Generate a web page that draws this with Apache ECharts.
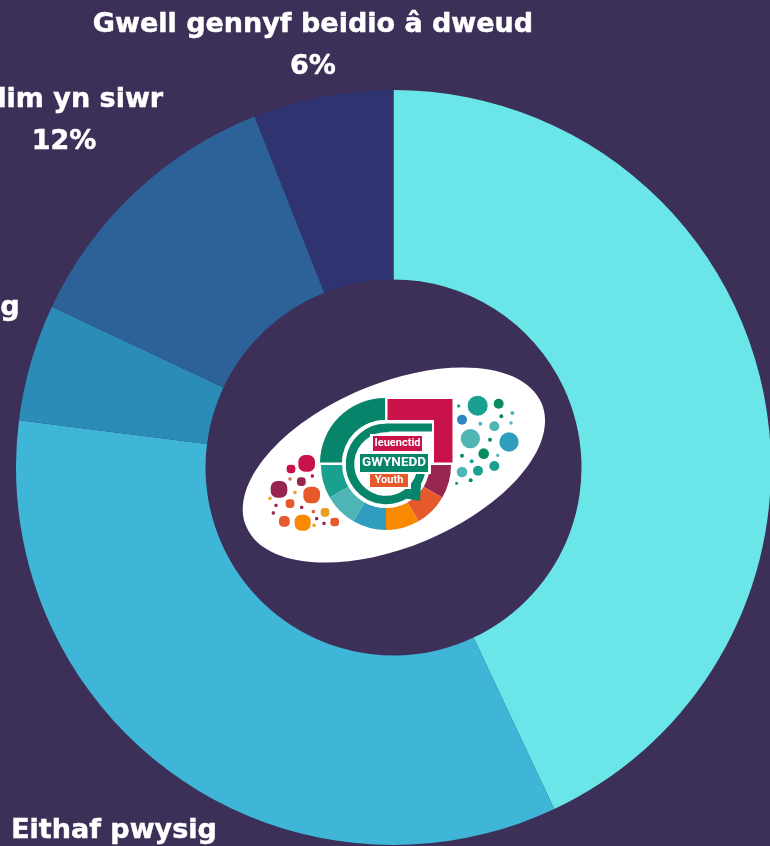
<!DOCTYPE html>
<html>
<head>
<meta charset="utf-8">
<style>html,body{margin:0;padding:0;background:#3c2f58;overflow:hidden}#c{width:770px;height:846px}</style>
<script src="https://cdn.jsdelivr.net/npm/echarts@6/dist/echarts.min.js"></script>
</head>
<body>
<div id="c"></div>
<script>
const categories = ['Pwysig iawn', 'Eithaf pwysig', 'Ddim yn bwysig', 'Ddim yn siwr', 'Gwell gennyf beidio â dweud'];
const values = [43, 34, 5, 12, 6];
const sliceColors = ['#6ae5e8', '#3fb5d7', '#2b8cb8', '#2d6299', '#2f3470'];
const labelAnchors = [[900, 460], [114, 852], [-101, 329], [64, 121], [313, 46]];

// Logo dots: x, y, radius (in logo pixel units), colour
const warmDots = [[230,325,25,'#c9124a'],[183,342,13,'#c9124a'],[147,403,25,'#96254f'],[214,380,13,'#96254f'],[245,420,25,'#e5592b'],[180,446,13,'#e5592b'],[163,499,16,'#e5592b'],[218,503,24,'#f98a00'],[285,472,13,'#e8a020'],[314,501,13,'#e5592b'],[180,372,5,'#d8735a'],[247,363,5,'#c9124a'],[195,412,5,'#e8a020'],[120,430,5,'#e8a020'],[138,451,5,'#96254f'],[130,474,5,'#96254f'],[215,457,5,'#96254f'],[250,470,5,'#e5592b'],[260,491,5,'#96254f'],[282,505,5,'#96254f'],[252,511,5,'#e8a020']];
const coolDots = [[743,152,30,'#1aa08e'],[806,146,15,'#0a8a60'],[686,153,5,'#1aa08e'],[696,194,15,'#2f86c0'],[847,174,6,'#4fb5b5'],[814,184,6,'#0a8a60'],[843,204,5,'#4fb5b5'],[751,206,6,'#4fb5b5'],[793,214,15,'#4fb5b5'],[721,251,29,'#4fb5b5'],[837,261,29,'#2f9dbd'],[780,254,6,'#0a8a60'],[761,296,16,'#0a8a60'],[696,302,6,'#0a8a60'],[725,319,6,'#1aa08e'],[803,301,5,'#4fb5b5'],[793,333,15,'#1aa08e'],[744,347,15,'#1aa08e'],[696,351,16,'#4fb5b5'],[722,376,6,'#0a8a60'],[680,385,5,'#1aa08e']];
const ringColors = ['#96254f', '#e5592b', '#f98a00', '#2f9dbd', '#4fb5b5', '#1aa08e'];

const zx = x => 230 + x / 3, zy = y => 355 + y / 3;
const cx = 386, cy = 464, D = Math.PI / 180;
const g = [];
g.push({type:'ellipse', z:10, shape:{cx:0, cy:0, rx:160, ry:82}, x:394, y:465, rotation:22.6*D, style:{fill:'#ffffff'}});
warmDots.forEach(d => { const r = d[2]/3; g.push({type:'rect', z:11, shape:{x:zx(d[0])-r, y:zy(d[1])-r, width:2*r, height:2*r, r:r*0.8}, style:{fill:d[3]}}); });
coolDots.forEach(d => g.push({type:'circle', z:11, shape:{cx:zx(d[0]), cy:zy(d[1]), r:d[2]/3}, style:{fill:d[3]}}));
g.push({type:'rect', z:11, shape:{x:387.5, y:399, width:65, height:64}, style:{fill:'#c9124a'}});
g.push({type:'sector', z:11, shape:{cx:cx-1, cy:cy-1, r:65, r0:43, startAngle:180*D, endAngle:270*D}, style:{fill:'#06856a'}});
ringColors.forEach((c, i) => g.push({type:'sector', z:11, shape:{cx, cy:cy+1, r:65, r0:43, startAngle:i*30*D, endAngle:(i+1)*30*D}, style:{fill:c}}));
g.push({type:'circle', z:12, shape:{cx, cy, r:44}, style:{fill:'#ffffff'}});
g.push({type:'rect', z:12, shape:{x:387.5, y:420, width:46.5, height:43}, style:{fill:'#ffffff'}});
g.push({type:'rect', z:12, shape:{x:320, y:462.5, width:133, height:2}, style:{fill:'#ffffff'}});
g.push({type:'arc', z:13, shape:{cx, cy, r:36, startAngle:275*D, endAngle:15*D, clockwise:false}, style:{stroke:'#06856a', lineWidth:8.5, fill:null}});
g.push({type:'rect', z:13, shape:{x:386, y:423.5, width:46, height:8}, style:{fill:'#06856a'}});
g.push({type:'polygon', z:13, shape:{points:[[421.5,475],[420,501],[403,498]]}, style:{fill:'#06856a'}});
g.push({type:'rect', z:14, shape:{x:370, y:434, width:55, height:18}, style:{fill:'#ffffff'}});
g.push({type:'rect', z:14, shape:{x:357, y:452, width:74, height:22}, style:{fill:'#ffffff'}});
g.push({type:'rect', z:14, shape:{x:367, y:472, width:44, height:17}, style:{fill:'#ffffff'}});
g.push({type:'rect', z:15, shape:{x:373, y:436, width:49, height:15}, style:{fill:'#c9124a'}});
g.push({type:'rect', z:15, shape:{x:360, y:454, width:68, height:18}, style:{fill:'#06856a'}});
g.push({type:'rect', z:15, shape:{x:370, y:474, width:38, height:13}, style:{fill:'#e5592b'}});
const txt = (t, x, y, s) => g.push({type:'text', z:16, x, y, style:{text:t, fill:'#ffffff', font:'700 '+s+'px Roboto, sans-serif', textAlign:'center', textVerticalAlign:'middle'}});
txt('Ieuenctid', 397.5, 443.5, 11);
txt('GWYNEDD', 394, 463, 13.5);
txt('Youth', 389, 480.5, 11);

const chart = echarts.init(document.getElementById('c'), null, {renderer:'canvas'});
chart.setOption({
  backgroundColor:'#3c2f58',
  animation:false,
  graphic:{elements:g},
  series:[{
    type:'pie',
    center:[393.5, 467.5],
    radius:[188, 377.5],
    startAngle:90,
    clockwise:true,
    avoidLabelOverlap:false,
    silent:true,
    data:categories.map((name, i) => ({name, value:values[i], itemStyle:{color:sliceColors[i]}})),
    label:{show:true, position:'outside', formatter:'{b}\n{d}%', color:'#ffffff', fontFamily:'DejaVu Sans', fontWeight:700, fontSize:27, lineHeight:42, align:'center', textBorderColor:'#ffffff', textBorderWidth:0.5},
    labelLine:{show:false},
    labelLayout:p => ({x:labelAnchors[p.dataIndex][0], y:labelAnchors[p.dataIndex][1], align:'center', verticalAlign:'middle', hideOverlap:false})
  }]
});
</script>
</body>
</html>
